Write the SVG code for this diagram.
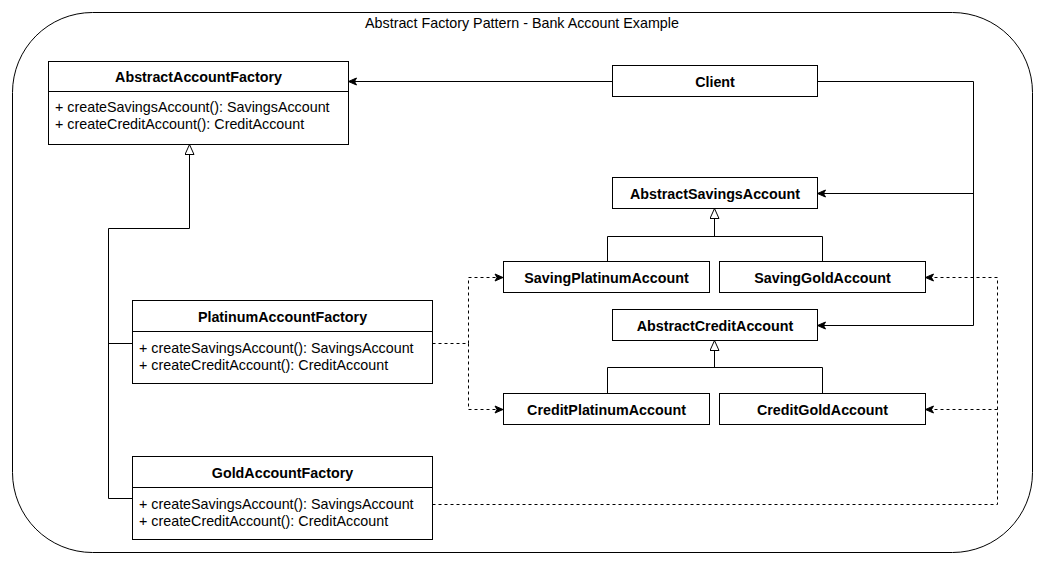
<svg xmlns="http://www.w3.org/2000/svg" width="1046" height="566" viewBox="0 0 1046 566">
<defs>
<style>
.box{fill:#fff;stroke:#000;stroke-width:1}
.t{font-family:"Liberation Sans",Arial,sans-serif;font-size:14.3px;fill:#000}
.b{font-weight:bold;text-anchor:middle}
.c{fill:none;stroke:#000;stroke-width:1}
.d{stroke-dasharray:3 3}
</style>
<marker id="arr" markerWidth="10" markerHeight="10" refX="9" refY="5" orient="auto" markerUnits="userSpaceOnUse">
<path d="M1,1.5 L9,5 L1,8.5 L3,5 Z" fill="#000" stroke="#000" stroke-width="1" stroke-linejoin="miter"/>
</marker>
<marker id="tri" markerWidth="14" markerHeight="12" refX="11" refY="5" orient="auto" markerUnits="userSpaceOnUse">
<path d="M1,0.5 L11,5 L1,9.5 Z" fill="#fff" stroke="#000" stroke-width="1"/>
</marker>
</defs>
<rect width="1046" height="566" fill="#fff"/>
<g id="container">
<rect x="12.5" y="12.5" width="1020" height="540" rx="80" ry="80" class="box"/>
<text x="522" y="28" class="t" text-anchor="middle">Abstract Factory Pattern - Bank Account Example</text>
</g>
<g id="connectors">
<path class="c" d="M612,81.5 H348.5" marker-end="url(#arr)"/>
<path class="c" d="M817,81.5 H973.5 V325.5 H817.5" marker-end="url(#arr)"/>
<path class="c" d="M973.5,193.5 H817.5" marker-end="url(#arr)"/>
<path class="c" d="M607.5,261 V236.5 H822.5 V261"/>
<path class="c" d="M714.5,236.5 V208.5" marker-end="url(#tri)"/>
<path class="c" d="M607.5,393 V367.5 H822.5 V393"/>
<path class="c" d="M714.5,367.5 V340.5" marker-end="url(#tri)"/>
<path class="c" d="M132.5,498.5 H108.5 V228.5 H189.5 V144.5" marker-end="url(#tri)"/>
<path class="c" d="M108.5,343.5 H132.5"/>
<path class="c d" d="M432.5,343.5 H468.5 V277.5 H503" marker-end="url(#arr)"/>
<path class="c d" d="M468.5,343.5 V409.5 H503" marker-end="url(#arr)"/>
<path class="c d" d="M432.5,504.5 H997.5 V277.5 H925.5" marker-end="url(#arr)"/>
<path class="c d" d="M997.5,409.5 H925.5" marker-end="url(#arr)"/>
</g>
<g id="AbstractAccountFactory">
<rect x="48.5" y="61.5" width="300" height="83" class="box"/>
<line x1="48.5" y1="91.5" x2="348.5" y2="91.5" stroke="#000"/>
<text x="198.5" y="82" class="t b">AbstractAccountFactory</text>
<text x="55" y="111.5" class="t">+ createSavingsAccount(): SavingsAccount</text>
<text x="55" y="128.5" class="t">+ createCreditAccount(): CreditAccount</text>
</g>
<g id="Client">
<rect x="612.5" y="65.5" width="205" height="31" class="box"/>
<text x="715" y="86.5" class="t b">Client</text>
</g>
<g id="AbstractSavingsAccount">
<rect x="612.5" y="177.5" width="205" height="31" class="box"/>
<text x="715" y="198.5" class="t b">AbstractSavingsAccount</text>
</g>
<g id="SavingPlatinumAccount">
<rect x="503.5" y="261.5" width="206" height="31" class="box"/>
<text x="606.5" y="282.5" class="t b">SavingPlatinumAccount</text>
</g>
<g id="SavingGoldAccount">
<rect x="719.5" y="261.5" width="206" height="31" class="box"/>
<text x="822.5" y="282.5" class="t b">SavingGoldAccount</text>
</g>
<g id="AbstractCreditAccount">
<rect x="612.5" y="309.5" width="205" height="31" class="box"/>
<text x="715" y="330.5" class="t b">AbstractCreditAccount</text>
</g>
<g id="CreditPlatinumAccount">
<rect x="503.5" y="393.5" width="206" height="31" class="box"/>
<text x="606.5" y="414.5" class="t b">CreditPlatinumAccount</text>
</g>
<g id="CreditGoldAccount">
<rect x="719.5" y="393.5" width="206" height="31" class="box"/>
<text x="822.5" y="414.5" class="t b">CreditGoldAccount</text>
</g>
<g id="PlatinumAccountFactory">
<rect x="132.5" y="300.5" width="300" height="83" class="box"/>
<line x1="132.5" y1="331.5" x2="432.5" y2="331.5" stroke="#000"/>
<text x="282.5" y="321.5" class="t b">PlatinumAccountFactory</text>
<text x="139" y="352.5" class="t">+ createSavingsAccount(): SavingsAccount</text>
<text x="139" y="369.5" class="t">+ createCreditAccount(): CreditAccount</text>
</g>
<g id="GoldAccountFactory">
<rect x="132.5" y="456.5" width="300" height="83" class="box"/>
<line x1="132.5" y1="487.5" x2="432.5" y2="487.5" stroke="#000"/>
<text x="282.5" y="477.5" class="t b">GoldAccountFactory</text>
<text x="139" y="508.5" class="t">+ createSavingsAccount(): SavingsAccount</text>
<text x="139" y="525.5" class="t">+ createCreditAccount(): CreditAccount</text>
</g>
</svg>
